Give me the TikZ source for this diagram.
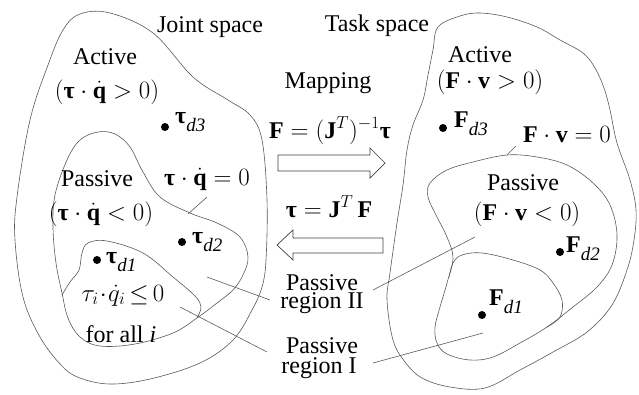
\documentclass[tikz,border=0pt]{standalone}
\usepackage{amsmath}
\usepackage{fontspec}
\setmainfont{Liberation Serif}
\newcommand{\btau}{\text{\bfseries τ}}
% lowered italic index set a little smaller than the main text
\newcommand{\lowsub}[1]{\text{\raisebox{-8.5pt}{\fontsize{19}{19}\selectfont\itshape #1}}}
\tikzset{
  lbl/.style={font=\fontsize{24}{26}\selectfont, inner sep=0pt, anchor=base},
  blob/.style={draw=black!65, line width=0.6pt},
  pointer/.style={draw=black!65, line width=0.6pt},
  hollowarrow/.style={draw=black!75, line width=0.7pt},
  pt/.style={circle, fill=black, inner sep=0pt, minimum size=8pt},
}
\begin{document}
\begin{tikzpicture}[x=1pt,y=-1pt]
\useasboundingbox (0,0) rectangle (639,394);

% ---------- joint space regions ----------
\draw[blob] plot[smooth cycle, tension=0.6] coordinates {
  (63,30) (80,14) (110,13) (153,33) (193,77) (228,100) (250,115) (262,140)
  (267,200) (266,260) (262,287) (252,310) (233,340) (200,363) (150,379)
  (110,384) (80,378) (62,366) (40,337) (23,297) (15,240) (17,197) (30,120) (48,65)};
\draw[blob] plot[smooth cycle, tension=0.6] coordinates {
  (67,160) (80,140) (98,132) (115,134) (130,147) (143,172) (160,197) (190,213)
  (217,223) (240,237) (248,257) (243,275) (233,290) (217,303) (197,318)
  (173,333) (135,344) (100,346) (80,337) (68,318) (62,293) (56,263) (53,228) (55,195)};
\draw[blob] plot[smooth, tension=0.6] coordinates {
  (62,295) (70,282) (79,270) (82,253) (88,243) (107,241) (143,253) (173,277)
  (195,296) (201,307) (197,318)};

% ---------- task space regions ----------
\draw[blob] plot[smooth cycle, tension=0.6] coordinates {
  (438,27) (460,16) (480,13) (507,17) (537,27) (560,40) (583,53) (595,68)
  (604,88) (610,110) (617,143) (630,180) (636,210) (634,240) (627,270)
  (612,305) (587,332) (553,352) (520,370) (485,388) (450,387) (422,378)
  (405,362) (393,340) (387,300) (390,273) (397,223) (403,185) (407,150)
  (413,125) (423,100) (428,75) (433,50)};
\draw[blob] plot[smooth cycle, tension=0.6] coordinates {
  (430,183) (447,170) (473,162) (507,155) (537,157) (567,165) (593,183)
  (610,205) (617,235) (612,265) (597,287) (573,307) (547,327) (520,343)
  (493,357) (470,360) (447,354) (437,343) (435,327) (440,307) (447,283)
  (453,258) (447,237) (437,217) (428,197)};
\draw[blob] plot[smooth, tension=0.6] coordinates {
  (449,277) (453,263) (462,255) (482,253) (513,260) (540,270) (553,283)
  (562,300) (560,317) (547,327)};

% ---------- headings ----------
\node[lbl] (jspace) at (210,32) {Joint space};
\node[lbl] (tspace) at (377,31) {Task space};
\node[lbl] (mapping) at (328,88) {Mapping};
\node[lbl] (fwd) at (330,138) {$\mathbf{F} = (\mathbf{J}^{T})^{-1}\btau$};
\node[lbl] (bwd) at (329,217) {$\btau = \mathbf{J}^{T}\,\mathbf{F}$};

% ---------- joint space texts ----------
\node[lbl] (actJ) at (105,64) {Active};
\node[lbl] (actJc) at (107,98) {$(\btau\cdot\dot{\mathbf{q}} > 0)$};
\node[lbl] (pasJ) at (97,186) {Passive};
\node[lbl] (zeroJ) at (207,185) {$\btau\cdot\dot{\mathbf{q}} = 0$};
\node[lbl] (pasJc) at (101,220) {$(\btau\cdot\dot{\mathbf{q}} < 0)$};
\node[lbl] (condI) at (123,301)
  {$\tau_i\mkern1mu{\cdot}\mkern1mu\dot{q}_i\mkern3mu{\leq}\mkern3mu 0$};
\node[lbl] (forall) at (121,342) {for all \textit{i}};

\node[pt] (td3) at (165,127) {};
\node[lbl, anchor=base west] (td3l) at (175,123) {$\btau\lowsub{d3}$};
\node[pt] (td2) at (182,242) {};
\node[lbl, anchor=base west] (td2l) at (192,243) {$\btau\lowsub{d2}$};
\node[pt] (td1) at (97,260) {};
\node[lbl, anchor=base west] (td1l) at (106,263) {$\btau\lowsub{d1}$};

% ---------- task space texts ----------
\node[lbl] (actT) at (480,62) {Active};
\node[lbl] (actTc) at (490,88) {$(\mathbf{F}\cdot\mathbf{v} > 0)$};
\node[lbl] (zeroT) at (567,142) {$\mathbf{F}\cdot\mathbf{v} = 0$};
\node[lbl] (pasT) at (523,190) {Passive};
\node[lbl] (pasTc) at (527,220) {$(\mathbf{F}\cdot\mathbf{v} < 0)$};

\node[pt] (fd3) at (443,128) {};
\node[lbl, anchor=base west] (fd3l) at (454,127) {$\mathbf{F}\lowsub{d3}$};
\node[pt] (fd2) at (560,252) {};
\node[lbl, anchor=base west] (fd2l) at (566,252) {$\mathbf{F}\lowsub{d2}$};
\node[pt] (fd1) at (482,315) {};
\node[lbl, anchor=base west] (fd1l) at (489,305) {$\mathbf{F}\lowsub{d1}$};

% ---------- region labels ----------
\node[lbl] (r2a) at (322,290) {Passive};
\node[lbl] (r2b) at (322,308) {region II};
\node[lbl] (r1a) at (322,353) {Passive};
\node[lbl] (r1b) at (319,373) {region I};

% ---------- pointers ----------
\coordinate (r2L) at (270,300);
\coordinate (r2R) at (373,290);
\coordinate (r1L) at (267,352);
\coordinate (r1R) at (373,363);
\coordinate (inIIJ) at (207,277);
\coordinate (inIJ) at (180,307);
\coordinate (inIIT) at (475,237);
\coordinate (inIT) at (483,333);
\coordinate (bndJ) at (188,214);
\coordinate (tickJ) at (207,197);
\coordinate (bndT) at (507,155);
\coordinate (tickT) at (516,146);
\draw[pointer] (inIIJ) -- (r2L);
\draw[pointer] (inIJ) -- (r1L);
\draw[pointer] (r2R) -- (inIIT);
\draw[pointer] (r1R) -- (inIT);
\draw[pointer] (bndJ) -- (tickJ);
\draw[pointer] (bndT) -- (tickT);

% ---------- hollow mapping arrows ----------
\draw[hollowarrow] (278,155) -- (370,155) -- (370,148) -- (385,163)
  -- (370,178) -- (370,171) -- (278,171) -- cycle;
\draw[hollowarrow] (383,238) -- (293,238) -- (293,230) -- (277,245)
  -- (293,260) -- (293,253) -- (383,253) -- cycle;
\end{tikzpicture}
\end{document}
